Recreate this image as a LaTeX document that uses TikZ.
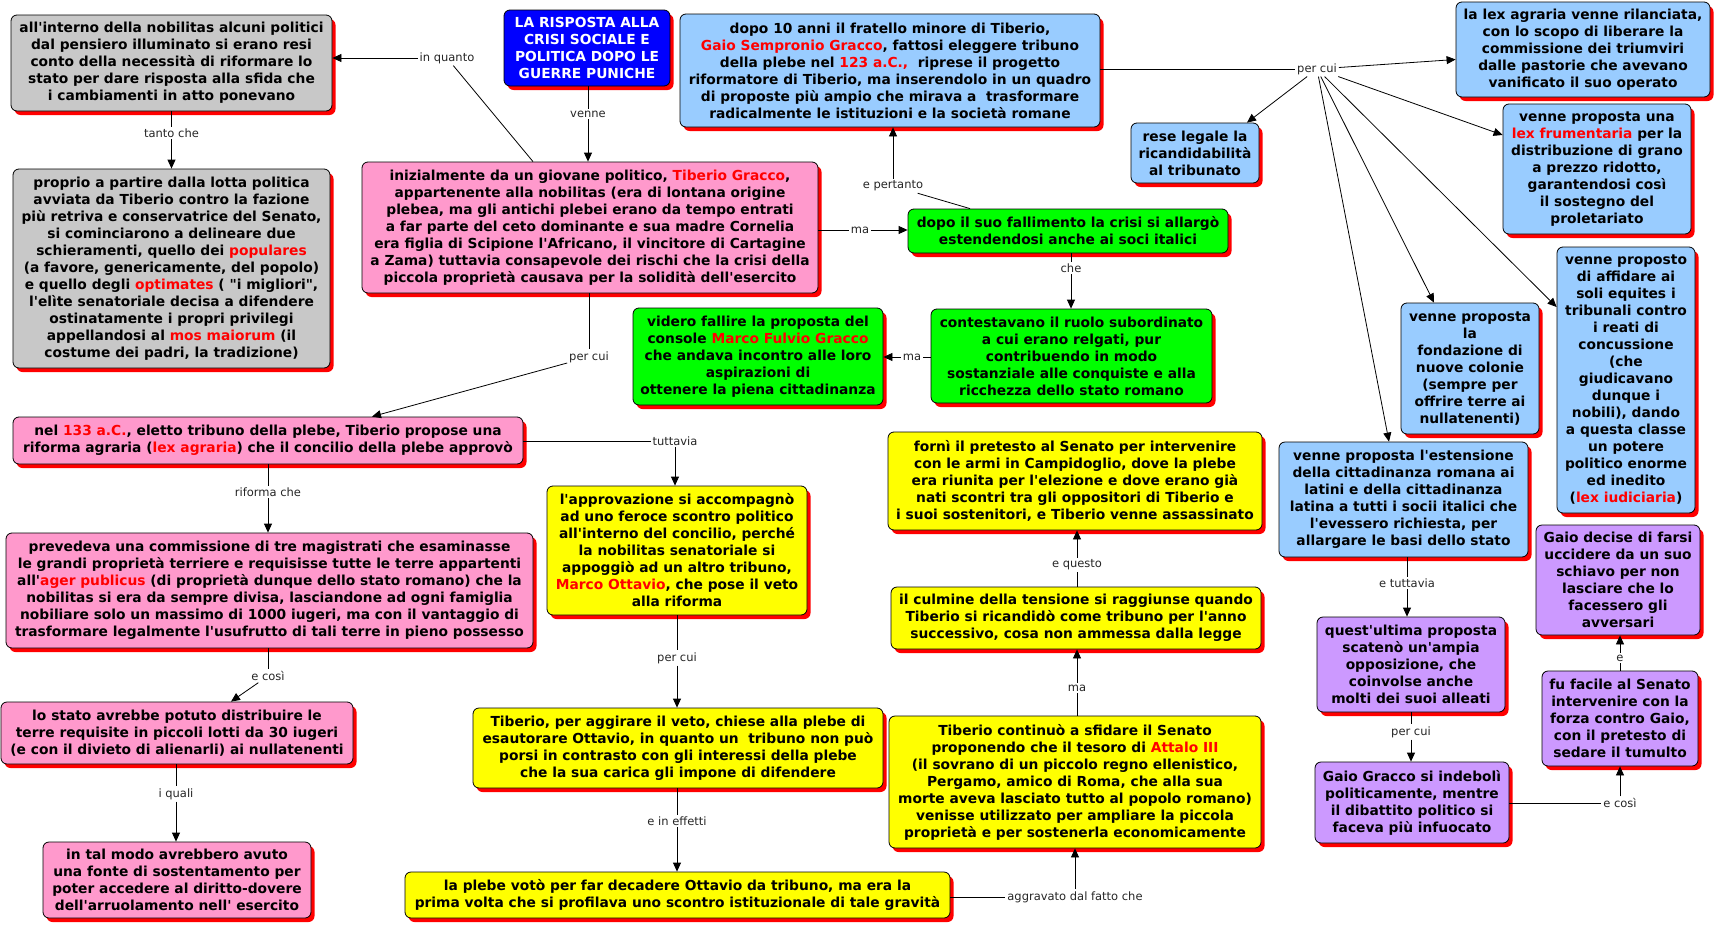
\documentclass[tikz,border=0pt]{standalone}
\usepackage{fontspec}
\newfontfamily\mapfont{DejaVu Sans}
\usetikzlibrary{arrows.meta,shadows}
\definecolor{cgray}{HTML}{C8C8C8}
\definecolor{cpink}{HTML}{FF99CC}
\definecolor{cblue}{HTML}{99CCFF}
\definecolor{cgreen}{HTML}{00FF00}
\definecolor{cyellow}{HTML}{FFFF00}
\definecolor{cpurple}{HTML}{CC99FF}
\definecolor{ctitle}{HTML}{0000FF}
\newcommand\redt[1]{\textcolor{red}{#1}}
\begin{document}
\begin{tikzpicture}[x=1pt,y=-1pt,
  box/.style={draw=black, line width=0.8pt, rounded corners=6pt, align=center, inner sep=0pt,
    font=\mapfont\bfseries\fontsize{13.8pt}{17pt}\selectfont,
    drop shadow={shadow xshift=3.5pt,shadow yshift=-4pt,fill=red,opacity=1}},
  lab/.style={fill=white, inner sep=1.8pt, font=\mapfont\fontsize{11.5pt}{13pt}\selectfont, text=black!85},
  conn/.style={draw, line width=0.8pt},
  arr/.style={conn, -{Triangle[length=9pt,width=8pt]}}]
\fill[white] (0,0) rectangle (1717,926);
\useasboundingbox (0,0) rectangle (1717,926);

% ---------- boxes ----------
\node[box,fill=cgray,minimum width=321pt,minimum height=96pt] (g1) at (171.5,63)
 {all'interno della nobilitas alcuni politici\\dal pensiero illuminato si erano resi\\conto della necessità di riformare lo\\stato per dare risposta alla sfida che\\i cambiamenti in atto ponevano};
\node[box,fill=cgray,minimum width=317pt,minimum height=199pt] (g2) at (171.5,268.5)
 {proprio a partire dalla lotta politica\\avviata da Tiberio contro la fazione\\più retriva e conservatrice del Senato,\\si cominciarono a delineare due\\schieramenti, quello dei \redt{populares}\\(a favore, genericamente, del popolo)\\e quello degli \redt{optimates} ( "i migliori",\\l'elìte senatoriale decisa a difendere\\ostinatamente i propri privilegi\\appellandosi al \redt{mos maiorum} (il\\costume dei padri, la tradizione)};
\node[box,fill=ctitle,text=white,minimum width=166pt,minimum height=76pt] (title) at (587,48)
 {LA RISPOSTA ALLA\\CRISI SOCIALE E\\POLITICA DOPO LE\\GUERRE PUNICHE};
\node[box,fill=cblue,minimum width=420pt,minimum height=113pt] (gaio) at (890,70.5)
 {dopo 10 anni il fratello minore di Tiberio,\\\redt{Gaio Sempronio Gracco}, fattosi eleggere tribuno\\della plebe nel \redt{123 a.C.,}~ riprese il progetto\\riformatore di Tiberio, ma inserendolo in un quadro\\di proposte più ampio che mirava a~ trasformare\\radicalmente le istituzioni e la società romane};
\node[box,fill=cpink,minimum width=456pt,minimum height=131pt] (tib) at (590,227.5)
 {inizialmente da un giovane politico, \redt{Tiberio Gracco},\\appartenente alla nobilitas (era di lontana origine\\plebea, ma gli antichi plebei erano da tempo entrati\\a far parte del ceto dominante e sua madre Cornelia\\era figlia di Scipione l'Africano, il vincitore di Cartagine\\a Zama) tuttavia consapevole dei rischi che la crisi della\\piccola proprietà causava per la solidità dell'esercito};
\node[box,fill=cgreen,minimum width=320pt,minimum height=44pt] (green1) at (1068,231)
 {dopo il suo fallimento la crisi si allargò\\estendendosi anche ai soci italici};
\node[box,fill=cblue,minimum width=128pt,minimum height=60pt] (rese) at (1195,153)
 {rese legale la\\ricandidabilità\\al tribunato};
\node[box,fill=cblue,minimum width=254pt,minimum height=95pt] (lexagr) at (1583,49.5)
 {la lex agraria venne rilanciata,\\con lo scopo di liberare la\\commissione dei triumviri\\dalle pastorie che avevano\\vanificato il suo operato};
\node[box,fill=cblue,minimum width=188pt,minimum height=130pt] (frum) at (1597,169)
 {venne proposta una\\\redt{lex frumentaria} per la\\distribuzione di grano\\a prezzo ridotto,\\garantendosi così\\il sostegno del\\proletariato};
\node[box,fill=cblue,minimum width=138pt,minimum height=266pt] (iud) at (1626,380)
 {venne proposto\\di affidare ai\\soli equites i\\tribunali contro\\i reati di\\concussione\\(che\\giudicavano\\dunque i\\nobili), dando\\a questa classe\\un potere\\politico enorme\\ed inedito\\(\redt{lex iudiciaria})};
\node[box,fill=cblue,minimum width=138pt,minimum height=131pt] (colonie) at (1470,368.5)
 {venne proposta\\la\\fondazione di\\nuove colonie\\(sempre per\\offrire terre ai\\nullatenenti)};
\node[box,fill=cblue,minimum width=249pt,minimum height=115pt] (estens) at (1403.5,499.5)
 {venne proposta l'estensione\\della cittadinanza romana ai\\latini e della cittadinanza\\latina a tutti i socii italici che\\l'evessero richiesta, per\\allargare le basi dello stato};
\node[box,fill=cpurple,minimum width=164pt,minimum height=110pt] (gaiodec) at (1618,580)
 {Gaio decise di farsi\\uccidere da un suo\\schiavo per non\\lasciare che lo\\facessero gli\\avversari};
\node[box,fill=cpurple,minimum width=156pt,minimum height=95pt] (facile) at (1620,718.5)
 {fu facile al Senato\\intervenire con la\\forza contro Gaio,\\con il pretesto di\\sedare il tumulto};
\node[box,fill=cpurple,minimum width=194pt,minimum height=81pt] (indeb) at (1412,802.5)
 {Gaio Gracco si indebolì\\politicamente, mentre\\il dibattito politico si\\faceva più infuocato};
\node[box,fill=cpurple,minimum width=188pt,minimum height=95pt] (ultima) at (1411,664.5)
 {quest'ultima proposta\\scatenò un'ampia\\opposizione, che\\coinvolse anche\\molti dei suoi alleati};
\node[box,fill=cpink,minimum width=510pt,minimum height=47pt] (nel) at (268,440.5)
 {nel \redt{133 a.C.}, eletto tribuno della plebe, Tiberio propose una\\riforma agraria (\redt{lex agraria}) che il concilio della plebe approvò};
\node[box,fill=cpink,minimum width=527pt,minimum height=115pt] (prev) at (269.5,590.5)
 {prevedeva una commissione di tre magistrati che esaminasse\\le grandi proprietà terriere e requisisse tutte le terre appartenti\\all'\redt{ager publicus} (di proprietà dunque dello stato romano) che la\\nobilitas si era da sempre divisa, lasciandone ad ogni famiglia\\nobiliare solo un massimo di 1000 iugeri, ma con il vantaggio di\\trasformare legalmente l'usufrutto di tali terre in pieno possesso};
\node[box,fill=cpink,minimum width=352pt,minimum height=62pt] (lostato) at (177,733)
 {lo stato avrebbe potuto distribuire le\\terre requisite in piccoli lotti da 30 iugeri\\(e con il divieto di alienarli) ai nullatenenti};
\node[box,fill=cpink,minimum width=268pt,minimum height=76pt] (talmodo) at (177,880)
 {in tal modo avrebbero avuto\\una fonte di sostentamento per\\poter accedere al diritto-dovere\\dell'arruolamento nell' esercito};
\node[box,fill=cyellow,minimum width=260pt,minimum height=129pt] (approv) at (677,550.5)
 {l'approvazione si accompagnò\\ad uno feroce scontro politico\\all'interno del concilio, perché\\la nobilitas senatoriale si\\appoggiò ad un altro tribuno,\\\redt{Marco Ottavio}, che pose il veto\\alla riforma};
\node[box,fill=cgreen,minimum width=250pt,minimum height=97pt] (videro) at (758,356.5)
 {videro fallire la proposta del\\console \redt{Marco Fulvio Gracco}\\che andava incontro alle loro\\aspirazioni di\\ottenere la piena cittadinanza};
\node[box,fill=cgreen,minimum width=281pt,minimum height=94pt] (contest) at (1071.5,356)
 {contestavano il ruolo subordinato\\a cui erano relgati, pur\\contribuendo in modo\\sostanziale alle conquiste e alla\\ricchezza dello stato romano};
\node[box,fill=cyellow,minimum width=374pt,minimum height=98pt] (forni) at (1075,481)
 {fornì il pretesto al Senato per intervenire\\con le armi in Campidoglio, dove la plebe\\era riunita per l'elezione e dove erano già\\nati scontri tra gli oppositori di Tiberio e\\i suoi sostenitori, e Tiberio venne assassinato};
\node[box,fill=cyellow,minimum width=370pt,minimum height=62pt] (culmine) at (1076,618)
 {il culmine della tensione si raggiunse quando\\Tiberio si ricandidò come tribuno per l'anno\\successivo, cosa non ammessa dalla legge};
\node[box,fill=cyellow,minimum width=372pt,minimum height=132pt] (attalo) at (1075,782)
 {Tiberio continuò a sfidare il Senato\\proponendo che il tesoro di \redt{Attalo III}\\(il sovrano di un piccolo regno ellenistico,\\Pergamo, amico di Roma, che alla sua\\morte aveva lasciato tutto al popolo romano)\\venisse utilizzato per ampliare la piccola\\proprietà e per sostenerla economicamente};
\node[box,fill=cyellow,minimum width=410pt,minimum height=80pt] (aggir) at (678,748)
 {Tiberio, per aggirare il veto, chiese alla plebe di\\esautorare Ottavio, in quanto un~ tribuno non può\\porsi in contrasto con gli interessi della plebe\\che la sua carica gli impone di difendere};
\node[box,fill=cyellow,minimum width=545pt,minimum height=46pt] (voto) at (677.5,895)
 {la plebe votò per far decadere Ottavio da tribuno, ma era la\\prima volta che si profilava uno scontro istituzionale di tale gravità};

% ---------- linking phrases ----------
\node[lab] (Linq) at (447,58) {in quanto};
\node[lab] (Ltanto) at (171.5,133) {tanto che};
\node[lab] (Lvenne) at (588,114) {venne};
\node[lab] (Lma1) at (860,230) {ma};
\node[lab] (Lpert) at (893,186) {e pertanto};
\node[lab] (Lche) at (1071,268) {che};
\node[lab] (Lpc1) at (1317,69) {per cui};
\node[lab] (Lma2) at (912,357) {ma};
\node[lab] (Lpc2) at (589,357) {per cui};
\node[lab] (Lrif) at (268,492) {riforma che};
\node[lab] (Ltutt) at (675,441) {tuttavia};
\node[lab] (Lcosi1) at (268,676) {e così};
\node[lab] (Lquali) at (176,794) {i quali};
\node[lab] (Lpc3) at (677,658) {per cui};
\node[lab] (Leff) at (677,821) {e in effetti};
\node[lab] (Laggr) at (1075,897) {aggravato dal fatto che};
\node[lab] (Lma3) at (1077,688) {ma};
\node[lab] (Lquesto) at (1077,565) {e questo};
\node[lab] (Letutt) at (1407,583) {e tuttavia};
\node[lab] (Lpc4) at (1411,732) {per cui};
\node[lab] (Lcosi2) at (1620,803) {e così};
\node[lab] (Le) at (1620,658) {e};

% ---------- connectors ----------
\path[conn] ([xshift=-57pt]tib.north) -- (Linq);
\path[arr] (Linq) -- (Linq -| g1.east);
\path[conn] (Ltanto |- g1.south) -- (Ltanto);
\path[arr] (Ltanto) -- (Ltanto |- g2.north);
\path[conn] (Lvenne |- title.south) -- (Lvenne);
\path[arr] (Lvenne) -- (Lvenne |- tib.north);
\path[conn] (tib.east |- Lma1) -- (Lma1);
\path[arr] (Lma1) -- (Lma1 -| green1.west);
\path[conn] ([xshift=-98pt]green1.north) -- (Lpert);
\path[arr] (Lpert) -- (Lpert |- gaio.south);
\path[conn] (Lche |- green1.south) -- (Lche);
\path[arr] (Lche) -- (Lche |- contest.north);
\path[conn] (gaio.east |- Lpc1) -- (Lpc1);
\path[arr] (Lpc1) -- ([yshift=-10pt]lexagr.west);
\path[arr] (Lpc1) -- ([yshift=34pt]frum.west);
\path[arr] (Lpc1) -- ([yshift=73pt]iud.west);
\path[arr] (Lpc1) -- ([xshift=-36pt]colonie.north);
\path[arr] (Lpc1) -- ([xshift=-14.5pt]estens.north);
\path[arr] (Lpc1) -- ([xshift=52pt]rese.north);
\path[conn] (contest.west |- Lma2) -- (Lma2);
\path[arr] (Lma2) -- (Lma2 -| videro.east);
\path[conn] (Lpc2 |- tib.south) -- (Lpc2);
\path[arr] (Lpc2) -- ([xshift=104pt]nel.north);
\path[conn] (Lrif |- nel.south) -- (Lrif);
\path[arr] (Lrif) -- (Lrif |- prev.north);
\path[conn] (nel.east |- Ltutt) -- (Ltutt);
\path[arr] (Ltutt) -- (Ltutt |- approv.north);
\path[conn] (Lcosi1 |- prev.south) -- (Lcosi1);
\path[arr] (Lcosi1) -- ([xshift=54pt]lostato.north);
\path[conn] (Lquali |- lostato.south) -- (Lquali);
\path[arr] (Lquali) -- (Lquali |- talmodo.north);
\path[conn] (Lpc3 |- approv.south) -- (Lpc3);
\path[arr] (Lpc3) -- (Lpc3 |- aggir.north);
\path[conn] (Leff |- aggir.south) -- (Leff);
\path[arr] (Leff) -- (Leff |- voto.north);
\path[conn] (voto.east |- Laggr) -- (Laggr);
\path[arr] (Laggr) -- (Laggr |- attalo.south);
\path[conn] (Lma3 |- attalo.north) -- (Lma3);
\path[arr] (Lma3) -- (Lma3 |- culmine.south);
\path[conn] (Lquesto |- culmine.north) -- (Lquesto);
\path[arr] (Lquesto) -- (Lquesto |- forni.south);
\path[conn] (Letutt |- estens.south) -- (Letutt);
\path[arr] (Letutt) -- (Letutt |- ultima.north);
\path[conn] (Lpc4 |- ultima.south) -- (Lpc4);
\path[arr] (Lpc4) -- (Lpc4 |- indeb.north);
\path[conn] (indeb.east |- Lcosi2) -- (Lcosi2);
\path[arr] (Lcosi2) -- (Lcosi2 |- facile.south);
\path[conn] (Le |- facile.north) -- (Le);
\path[arr] (Le) -- (Le |- gaiodec.south);
\end{tikzpicture}
\end{document}
